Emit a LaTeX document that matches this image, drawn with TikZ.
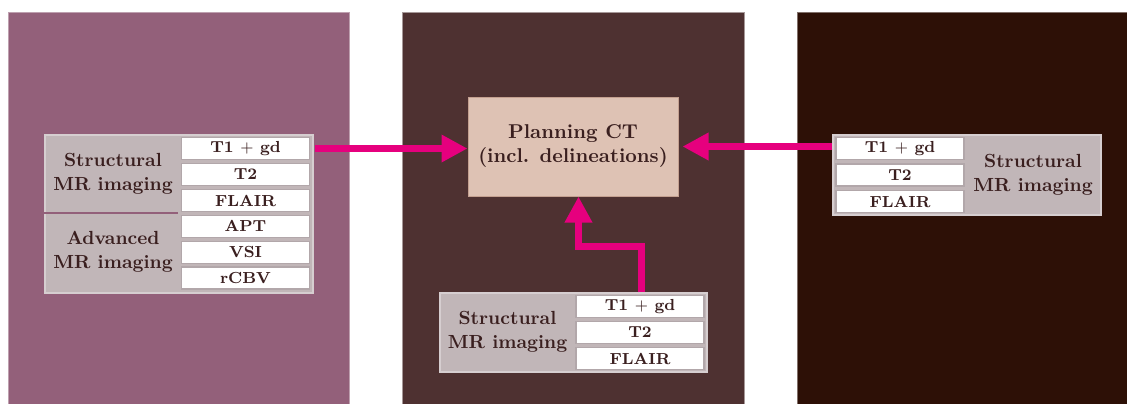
\documentclass[tikz,border=0pt]{standalone}
\usetikzlibrary{arrows.meta}
\definecolor{panelL}{HTML}{93607A}
\definecolor{panelM}{HTML}{4E3131}
\definecolor{panelR}{HTML}{2D1006}
\definecolor{planfill}{HTML}{DEC2B4}
\definecolor{planedge}{HTML}{C4A090}
\definecolor{grayfill}{HTML}{C1B6B8}
\definecolor{grayedge}{HTML}{D6CED0}
\definecolor{celledge}{HTML}{B2A7AA}
\definecolor{txt}{HTML}{3A1F1F}
\definecolor{magenta}{HTML}{E6007E}
\tikzset{
  panel/.style={line width=0.5pt},
  grp/.style={rectangle, fill=grayfill, draw=grayedge, line width=0.6pt, inner sep=0pt},
  lbl/.style={align=center, text=txt, font=\fontsize{9.5}{12}\selectfont\bfseries, inner sep=0pt},
  cell/.style={rectangle, fill=white, draw=celledge, line width=0.6pt, minimum width=64pt, minimum height=11pt, inner sep=0pt, text=txt, font=\fontsize{8}{9.6}\selectfont\bfseries},
  plan/.style={rectangle, fill=planfill, draw=planedge, line width=0.5pt, minimum width=105pt, minimum height=49.5pt, align=center, text=txt, font=\fontsize{10}{12}\selectfont\bfseries},
  arr/.style={draw=magenta, line width=3.5pt, -{Triangle[length=13pt,width=13pt]}},
  sep/.style={draw=panelL, line width=0.8pt}
}
\begin{document}
\begin{tikzpicture}[x=0.5pt,y=-0.5pt]
\useasboundingbox (0,0) rectangle (1127,403);
% panels
\fill[white] (0,0) rectangle (1127,403);
\draw[panel, fill=panelL, draw=panelL!60!white] (8,12) rectangle (349,404);
\draw[panel, fill=panelM, draw=panelM!50!white] (402,12) rectangle (744,404);
\draw[panel, fill=panelR, draw=panelR!60!white] (797,12) rectangle (1128,404);

% planning CT
\node[plan] (P) at (573,146.5) {Planning CT\\(incl. delineations)};

% left group
\node[grp, minimum width=134pt, minimum height=79pt] (Lg) at (179,214) {};
\node[lbl] (Ls) at (113,174) {Structural\\MR imaging};
\node[lbl] (La) at (113,252) {Advanced\\MR imaging};
\draw[sep] (Lg.west |- 0,213) -- (178,213);
\node[cell] (L1) at (245.5,148.5) {T1 $+$ gd};
\node[cell] (L2) at (245.5,174.5) {T2};
\node[cell] (L3) at (245.5,200.5) {FLAIR};
\node[cell] (L4) at (245.5,226.3) {APT};
\node[cell] (L5) at (245.5,252.1) {VSI};
\node[cell] (L6) at (245.5,278) {rCBV};

% bottom middle group
\node[grp, minimum width=133.5pt, minimum height=39.5pt] (Bg) at (573.5,332.5) {};
\node[lbl] (Bs) at (507.5,332) {Structural\\MR imaging};
\node[cell] (B1) at (640,306.5) {T1 $+$ gd};
\node[cell] (B2) at (640,332.5) {T2};
\node[cell] (B3) at (640,358.5) {FLAIR};

% right group
\node[grp, minimum width=134pt, minimum height=40pt] (Rg) at (967,175) {};
\node[lbl] (Rs) at (1033,175) {Structural\\MR imaging};
\node[cell] (R1) at (900,148.5) {T1 $+$ gd};
\node[cell] (R2) at (900,175) {T2};
\node[cell] (R3) at (900,201.5) {FLAIR};

% arrows
\draw[arr] ([xshift=2.5pt]L1.east) -- (L1.east -| P.west);
\draw[arr, shorten >=2pt] ([xshift=-1.5pt]R1.west |- P.east) -- (P.east);
\coordinate (bk) at (578.5,246.5);
\draw[arr] ([xshift=0.75pt]B1.north |- Bg.north) |- (bk) -- (bk |- P.south);
\end{tikzpicture}
\end{document}
